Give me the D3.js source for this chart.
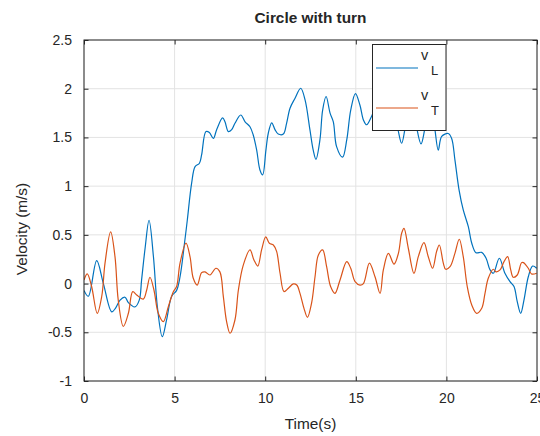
<!DOCTYPE html>
<html>
<head>
<meta charset="utf-8">
<script src="https://cdn.jsdelivr.net/npm/d3@7"></script>
<style>
  html, body { margin: 0; padding: 0; background: #fff; }
  svg { display: block; }
  text { font-family: "Liberation Sans", Arial, Helvetica, sans-serif; fill: #262626; }
</style>
</head>
<body>
<svg id="chart" width="540" height="436"></svg>
<script>
// ---------------- data ----------------
const titleText = "Circle with turn";
const xLabel = "Time(s)";
const yLabel = "Velocity (m/s)";
const xTicks = [0, 5, 10, 15, 20, 25];
const yTicks = [-1, -0.5, 0, 0.5, 1, 1.5, 2, 2.5];

const timeL = [0, 0.24, 0.70, 1.07, 1.53, 1.75, 1.99, 2.26, 2.45, 2.81, 3.05, 3.18, 3.37, 3.59, 3.83, 4.05, 4.32, 4.56, 4.84, 5.11, 5.30, 5.57, 5.70, 5.94, 6.13, 6.37, 6.49, 6.73, 6.92, 7.14, 7.32, 7.65, 7.78, 7.97, 8.15, 8.33, 8.65, 8.89, 9.16, 9.34, 9.53, 9.71, 9.86, 10.04, 10.17, 10.36, 10.54, 10.72, 11.0, 11.18, 11.37, 11.64, 11.96, 12.2, 12.47, 12.65, 12.8, 13.02, 13.17, 13.36, 13.58, 13.76, 13.94, 14.27, 14.5, 14.72, 14.98, 15.23, 15.42, 15.6, 15.88, 16.2, 16.6, 17.0, 17.3, 17.53, 17.75, 18.05, 18.3, 18.6, 18.85, 19.15, 19.35, 19.55, 19.74, 20.1, 20.29, 20.47, 20.7, 20.93, 21.21, 21.4, 21.63, 21.95, 22.19, 22.41, 22.59, 22.92, 23.23, 23.51, 23.73, 23.91, 24.1, 24.28, 24.52, 24.76, 24.98];
const vL = [-0.07, -0.13, 0.235, 0.0, -0.29, -0.25, -0.17, -0.14, -0.196, -0.24, -0.17, 0.04, 0.36, 0.65, 0.28, -0.24, -0.545, -0.37, -0.13, -0.07, 0.07, 0.45, 0.65, 1.03, 1.20, 1.235, 1.32, 1.56, 1.55, 1.49, 1.58, 1.70, 1.66, 1.56, 1.58, 1.645, 1.73, 1.66, 1.61, 1.525, 1.37, 1.166, 1.115, 1.37, 1.543, 1.65, 1.58, 1.535, 1.535, 1.645, 1.80, 1.90, 2.005, 1.885, 1.577, 1.37, 1.276, 1.474, 1.78, 1.92, 1.75, 1.66, 1.405, 1.297, 1.474, 1.78, 1.95, 1.83, 1.68, 1.63, 1.72, 1.85, 1.7, 1.78, 1.6, 1.44, 1.62, 1.82, 1.65, 1.433, 1.62, 1.78, 1.6, 1.37, 1.51, 1.54, 1.49, 1.27, 0.96, 0.756, 0.584, 0.414, 0.317, 0.32, 0.26, 0.14, 0.106, 0.26, 0.106, 0.02, -0.03, -0.186, -0.305, -0.17, 0.07, 0.18, 0.157];

const timeT = [0, 0.18, 0.42, 0.73, 0.98, 1.16, 1.47, 1.71, 1.89, 2.17, 2.45, 2.69, 2.91, 3.27, 3.46, 3.64, 3.86, 4.10, 4.38, 4.65, 4.93, 5.11, 5.30, 5.63, 5.85, 6.03, 6.25, 6.49, 6.68, 6.95, 7.28, 7.5, 7.69, 7.87, 8.06, 8.33, 8.52, 8.79, 9.16, 9.38, 9.59, 9.8, 10.03, 10.23, 10.45, 10.63, 10.82, 11.04, 11.28, 11.55, 11.74, 11.92, 12.14, 12.33, 12.56, 12.75, 12.93, 13.17, 13.39, 13.61, 13.85, 14.13, 14.5, 14.72, 14.96, 15.23, 15.42, 15.75, 16.06, 16.34, 16.52, 16.8, 17.11, 17.35, 17.53, 17.66, 17.9, 18.21, 18.45, 18.76, 19.0, 19.24, 19.46, 19.61, 19.83, 19.96, 20.2, 20.47, 20.71, 20.93, 21.15, 21.4, 21.67, 21.95, 22.13, 22.31, 22.59, 22.74, 22.96, 23.18, 23.38, 23.55, 23.69, 23.91, 24.15, 24.25, 24.52, 24.7, 24.98];
const vT = [0.037, 0.099, -0.03, -0.305, -0.13, 0.21, 0.53, 0.276, -0.17, -0.44, -0.305, -0.083, -0.117, -0.16, -0.066, 0.065, -0.066, -0.305, -0.39, -0.24, -0.083, -0.03, 0.21, 0.415, 0.276, 0.054, -0.015, 0.112, 0.12, 0.088, 0.157, 0.12, -0.134, -0.39, -0.51, -0.374, -0.066, 0.19, 0.345, 0.242, 0.18, 0.345, 0.48, 0.414, 0.396, 0.33, 0.106, -0.083, -0.048, -0.004, -0.015, -0.1, -0.254, -0.346, -0.2, 0.07, 0.29, 0.345, 0.173, -0.03, -0.1, 0.037, 0.225, 0.157, 0.02, -0.015, 0.0, 0.21, 0.07, -0.1, 0.14, 0.31, 0.2, 0.31, 0.516, 0.567, 0.36, 0.106, 0.276, 0.42, 0.276, 0.157, 0.33, 0.396, 0.21, 0.147, 0.173, 0.31, 0.455, 0.276, -0.03, -0.22, -0.305, -0.254, -0.1, 0.054, 0.147, 0.12, 0.14, 0.225, 0.276, 0.14, 0.065, 0.088, 0.215, 0.215, 0.157, 0.099, 0.106];

const seriesNames = ["v", "v"];
const seriesSubs = ["L", "T"];
const seriesColors = ["#0072BD", "#D95319"];

// ---------------- layout ----------------
const svg = d3.select("#chart");
const mLeft = 84, mRight = 537, mTop = 40, mBottom = 381;
const x = d3.scaleLinear().domain([0, 25]).range([mLeft, mRight]);
const y = d3.scaleLinear().domain([-1, 2.5]).range([mBottom, mTop]);
const axisColor = "#262626";
const gridColor = "#e3e3e3";

svg.append("rect").attr("x", mLeft).attr("y", mTop).attr("width", mRight - mLeft).attr("height", mBottom - mTop).attr("fill", "#fff");

// grid
const grid = svg.append("g");
grid.selectAll("line.gx").data(xTicks).join("line")
  .attr("x1", d => x(d)).attr("x2", d => x(d)).attr("y1", mTop).attr("y2", mBottom)
  .attr("stroke", gridColor).attr("stroke-width", 1);
grid.selectAll("line.gy").data(yTicks).join("line")
  .attr("y1", d => y(d)).attr("y2", d => y(d)).attr("x1", mLeft).attr("x2", mRight)
  .attr("stroke", gridColor).attr("stroke-width", 1);

// lines
svg.append("clipPath").attr("id", "clip").append("rect")
  .attr("x", mLeft).attr("y", mTop).attr("width", mRight - mLeft).attr("height", mBottom - mTop);
const lineGen = d3.line().x(d => x(d[0])).y(d => y(d[1])).curve(d3.curveCatmullRom.alpha(0.5));
const seriesData = [d3.zip(timeL, vL), d3.zip(timeT, vT)];
const plotG = svg.append("g").attr("clip-path", "url(#clip)");
seriesData.forEach((s, i) => {
  plotG.append("path").datum(s).attr("d", lineGen)
    .attr("fill", "none").attr("stroke", seriesColors[i]).attr("stroke-width", 1.2)
    .attr("stroke-linejoin", "round");
});

// axes
const fmt = d => String(d);
const tickLen = 4.5;
const axB = svg.append("g").attr("transform", `translate(0,${mBottom})`)
  .call(d3.axisBottom(x).tickValues(xTicks).tickFormat(fmt).tickSize(-tickLen).tickPadding(12));
const axT = svg.append("g").attr("transform", `translate(0,${mTop})`)
  .call(d3.axisTop(x).tickValues(xTicks).tickFormat("").tickSize(-tickLen));
const axL = svg.append("g").attr("transform", `translate(${mLeft},0)`)
  .call(d3.axisLeft(y).tickValues(yTicks).tickFormat(fmt).tickSize(-tickLen).tickPadding(12));
const axR = svg.append("g").attr("transform", `translate(${mRight},0)`)
  .call(d3.axisRight(y).tickValues(yTicks).tickFormat("").tickSize(-tickLen));
[axB, axT, axL, axR].forEach(g => {
  g.select(".domain").remove();
  g.selectAll(".tick line").attr("stroke", axisColor).attr("stroke-width", 1);
  g.selectAll(".tick text").attr("fill", axisColor).style("font-size", "14px")
    .style("font-family", '"Liberation Sans", Arial, sans-serif');
});
svg.append("rect").attr("x", mLeft).attr("y", mTop).attr("width", mRight - mLeft).attr("height", mBottom - mTop)
  .attr("fill", "none").attr("stroke", axisColor).attr("stroke-width", 1);

// labels
svg.append("text").attr("x", (mLeft + mRight) / 2).attr("y", 23).attr("text-anchor", "middle")
  .style("font-size", "15.4px").style("font-weight", "bold").attr("fill", "#000").text(titleText);
svg.append("text").attr("x", (mLeft + mRight) / 2).attr("y", 429).attr("text-anchor", "middle")
  .style("font-size", "15.4px").text(xLabel);
svg.append("text").attr("transform", `translate(27,229) rotate(-90)`).attr("text-anchor", "middle")
  .style("font-size", "15.4px").text(yLabel);

// legend
const lg = svg.append("g");
lg.append("rect").attr("x", 372.5).attr("y", 44.5).attr("width", 73.5).attr("height", 86)
  .attr("fill", "#fff").attr("stroke", axisColor).attr("stroke-width", 1);
const legRows = [68, 108];
seriesColors.forEach((c, i) => {
  const ly = legRows[i];
  lg.append("line").attr("x1", 376).attr("x2", 418).attr("y1", ly).attr("y2", ly)
    .attr("stroke", c).attr("stroke-width", 1.2);
  lg.append("text").attr("x", 421).attr("y", ly - 8).style("font-size", "14.5px").attr("fill", "#000").text(seriesNames[i]);
  lg.append("text").attr("x", 431).attr("y", ly + 7).style("font-size", "13px").attr("fill", "#000").text(seriesSubs[i]);
});
</script>
</body>
</html>
